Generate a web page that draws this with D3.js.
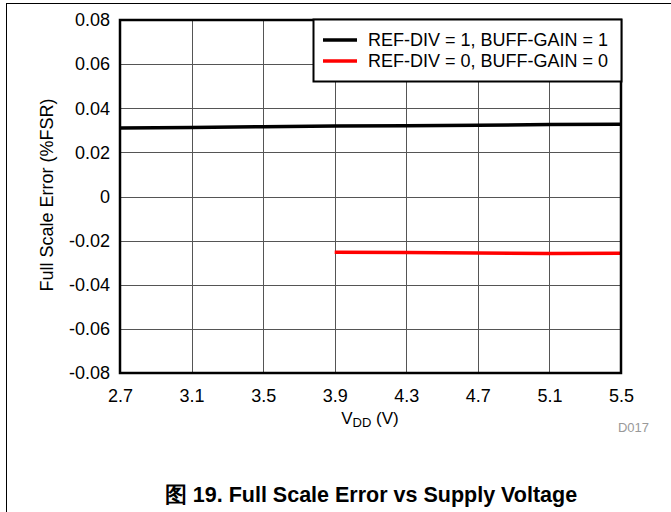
<!DOCTYPE html>
<html><head><meta charset="utf-8">
<script src="https://cdn.jsdelivr.net/npm/d3@7"></script>
<style>body{margin:0;background:#fff}svg{display:block}text{font-family:"Liberation Sans",Arial,sans-serif}</style>
</head><body><svg id="c" width="671" height="512"></svg>
<script>
const xTicks = [2.7, 3.1, 3.5, 3.9, 4.3, 4.7, 5.1, 5.5];
const yTicks = [-0.08, -0.06, -0.04, -0.02, 0, 0.02, 0.04, 0.06, 0.08];
const yTickLabels = ["-0.08", "-0.06", "-0.04", "-0.02", "0", "0.02", "0.04", "0.06", "0.08"];
const vddA = [2.7, 3.1, 3.5, 3.9, 4.3, 4.7, 5.1, 5.5];
const errA = [0.0311, 0.0313, 0.0316, 0.0319, 0.0321, 0.0323, 0.0326, 0.0328];
const vddB = [3.9, 4.3, 4.7, 5.1, 5.5];
const errB = [-0.0253, -0.0254, -0.0256, -0.0258, -0.0257];
const seriesNames = ["REF-DIV = 1, BUFF-GAIN = 1", "REF-DIV = 0, BUFF-GAIN = 0"];

const svg = d3.select("#c");
const L = 120, R = 621, T = 20, B = 373;
const x = d3.scaleLinear().domain([2.7, 5.5]).range([L, R]);
const y = d3.scaleLinear().domain([-0.08, 0.08]).range([B, T]);

// outer frame
svg.append("line").attr("x1",6).attr("x2",671).attr("y1",3.5).attr("y2",3.5).attr("stroke","#000").attr("stroke-width",1);
svg.append("line").attr("x1",6.5).attr("x2",6.5).attr("y1",3).attr("y2",512).attr("stroke","#000").attr("stroke-width",1);

// grid
const g = svg.append("g");
g.selectAll(".vx").data(xTicks.slice(1,-1)).join("line")
  .attr("x1",d=>Math.round(x(d))+0.5).attr("x2",d=>Math.round(x(d))+0.5).attr("y1",T).attr("y2",B)
  .attr("stroke","#555").attr("stroke-width",1);
g.selectAll(".hy").data(yTicks.slice(1,-1)).join("line")
  .attr("y1",d=>Math.round(y(d))+0.5).attr("y2",d=>Math.round(y(d))+0.5).attr("x1",L).attr("x2",R)
  .attr("stroke","#555").attr("stroke-width",1);

// axes labels via d3 axes
const xAxis = svg.append("g").attr("transform",`translate(0,${B})`)
  .call(d3.axisBottom(x).tickValues(xTicks).tickSize(0).tickPadding(0).tickFormat(d3.format(".1f")));
xAxis.select(".domain").remove();
xAxis.selectAll("text").attr("font-size",18).attr("fill","#000").attr("y",29).attr("dy",0).attr("font-family","Liberation Sans, Arial, sans-serif");

const yAxis = svg.append("g").attr("transform",`translate(${L},0)`)
  .call(d3.axisLeft(y).tickValues(yTicks).tickSize(0).tickPadding(10).tickFormat((d,i)=>yTickLabels[i]));
yAxis.select(".domain").remove();
yAxis.selectAll("text").attr("font-size",18).attr("fill","#000").attr("font-family","Liberation Sans, Arial, sans-serif");

// lines
const line = d3.line().x(d=>x(d[0])).y(d=>y(d[1]));
svg.append("path").datum(vddA.map((v,i)=>[v,errA[i]])).attr("d",line)
  .attr("fill","none").attr("stroke","#000").attr("stroke-width",3.5);
svg.append("path").datum(vddB.map((v,i)=>[v,errB[i]])).attr("d",line)
  .attr("fill","none").attr("stroke","#ff0000").attr("stroke-width",3.5);

// plot border
svg.append("rect").attr("x",L).attr("y",T).attr("width",R-L).attr("height",B-T)
  .attr("fill","none").attr("stroke","#000").attr("stroke-width",2.5);

// legend
const lg = svg.append("g");
lg.append("rect").attr("x",313.5).attr("y",19.5).attr("width",308).attr("height",62)
  .attr("fill","#fff").attr("stroke","#000").attr("stroke-width",2);
const colors = ["#000","#ff0000"];
seriesNames.forEach((n,i)=>{
  const yy = 40 + i*21;
  lg.append("line").attr("x1",323).attr("x2",357).attr("y1",yy).attr("y2",yy).attr("stroke",colors[i]).attr("stroke-width",3.5);
  lg.append("text").attr("x",368).attr("y",yy).attr("dy","0.36em").attr("font-size",18).text(n);
});

// axis titles
const xt = svg.append("text").attr("x",370).attr("y",424).attr("text-anchor","middle").attr("font-size",17);
xt.append("tspan").text("V");
xt.append("tspan").attr("font-size",13).attr("dy",3).text("DD");
xt.append("tspan").attr("dy",-3).text(" (V)");

svg.append("text").attr("transform","translate(53,195) rotate(-90)").attr("text-anchor","middle")
  .attr("font-size",18).text("Full Scale Error (%FSR)");

svg.append("text").attr("x",649).attr("y",432).attr("text-anchor","end").attr("font-size",13).attr("fill","#999").text("D017");

svg.append("text").attr("x",371).attr("y",502).attr("text-anchor","middle").attr("font-size",21.5).attr("font-weight","bold")
  .attr("font-family","Liberation Sans, 'Noto Sans CJK SC', sans-serif").text("图 19. Full Scale Error vs Supply Voltage");
</script></body></html>
